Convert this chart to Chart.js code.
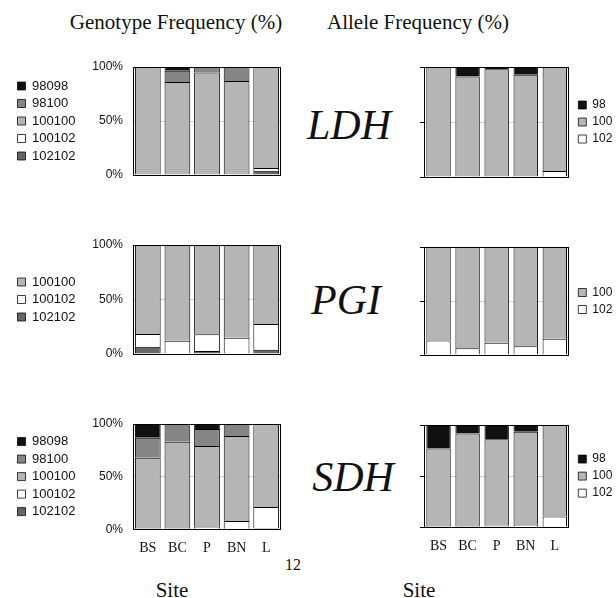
<!DOCTYPE html>
<html>
<head>
<meta charset="utf-8">
<script src="https://cdn.jsdelivr.net/npm/chart.js@4/dist/chart.umd.min.js"></script>
<style>
body { margin: 0; background: #fff; width: 616px; height: 598px; position: relative; overflow: hidden; font-family: "Liberation Serif", serif; color: #111; }
.box { position: absolute; }
.txt { position: absolute; white-space: nowrap; transform: translate(-50%, -50%); line-height: 1; }
.gene { font-style: italic; font-size: 42px; }
</style>
</head>
<body>
<div class="txt" style="left:176px;top:22px;font-size:21px">Genotype Frequency (%)</div>
<div class="txt" style="left:418px;top:22px;font-size:21px">Allele Frequency (%)</div>

<div class="txt gene" style="left:349px;top:125px">LDH</div>
<div class="txt gene" style="left:346px;top:300px">PGI</div>
<div class="txt gene" style="left:353px;top:477px">SDH</div>

<div class="txt" style="left:293px;top:565px;font-size:16px">12</div>
<div class="txt" style="left:172px;top:590px;font-size:21px">Site</div>
<div class="txt" style="left:419px;top:590px;font-size:21px">Site</div>

<div class="box" style="left:10px;top:57px;width:285px;height:126px"><canvas id="ldhGeno"></canvas></div>
<div class="box" style="left:370px;top:57px;width:246px;height:123px"><canvas id="ldhAllele"></canvas></div>
<div class="box" style="left:10px;top:235px;width:285px;height:127px"><canvas id="pgiGeno"></canvas></div>
<div class="box" style="left:370px;top:237px;width:246px;height:121px"><canvas id="pgiAllele"></canvas></div>
<div class="box" style="left:10px;top:414px;width:285px;height:154px"><canvas id="sdhGeno"></canvas></div>
<div class="box" style="left:370px;top:415px;width:246px;height:154px"><canvas id="sdhAllele"></canvas></div>

<script>
// sitios (eje x)
const sites = ['BS', 'BC', 'P', 'BN', 'L'];
const yTicks = [0, 50, 100];

// LDH - genotipos (%)
const ldh98098 = [0, 3.5, 0, 0, 0];
const ldh98100 = [0, 10.5, 5, 13, 0];
const ldh100100 = [100, 86, 95, 87, 93.5];
const ldh100102 = [0, 0, 0, 0, 2.5];
const ldh102102 = [0, 0, 0, 0, 4];
// LDH - alelos (%)
const ldhA98 = [0, 8.7, 2, 7, 0];
const ldhA100 = [100, 91.3, 98, 93, 94.5];
const ldhA102 = [0, 0, 0, 0, 5.5];

// PGI - genotipos (%)
const pgi100100 = [81.7, 87.8, 81.8, 85, 72.5];
const pgi100102 = [11.6, 12.2, 15.5, 15, 23.5];
const pgi102102 = [6.7, 0, 2.7, 0, 4];
// PGI - alelos (%)
const pgiA100 = [86.5, 93.7, 88.7, 91.8, 85];
const pgiA102 = [13.5, 6.3, 11.3, 8.2, 15];

// SDH - genotipos (%)
const sdh98098 = [13, 0, 4.7, 0, 0];
const sdh98100 = [19, 16.8, 16.2, 11.4, 0];
const sdh100100 = [68, 83.2, 76.6, 80.7, 79];
const sdh100102 = [0, 0, 2.5, 7.9, 20];
const sdh102102 = [0, 0, 0, 0, 1];
// SDH - alelos (%)
const sdhA98 = [23, 8.2, 14, 6.5, 0];
const sdhA100 = [77, 91.8, 84.5, 90.9, 89.5];
const sdhA102 = [0, 0, 1.5, 2.6, 10.5];

// colores por genotipo / alelo
const colors = {
    '98098': '#111111', '98100': '#858585', '100100': '#b5b5b5', '100102': '#ffffff', '102102': '#666666',
    '98': '#111111', '100': '#b5b5b5', '102': '#ffffff'
};

Chart.defaults.font.family = '"Liberation Sans", Arial, sans-serif';
Chart.defaults.color = '#111';
Chart.defaults.animation = false;

// marco negro alrededor del área del gráfico
const framePlugin = {
    id: 'frame',
    afterDatasetsDraw(chart) {
        const a = chart.chartArea, ctx = chart.ctx;
        ctx.save();
        ctx.strokeStyle = '#000';
        ctx.lineWidth = 1;
        ctx.strokeRect(Math.round(a.left) + 0.5, Math.round(a.top) + 0.5, Math.round(a.right - a.left) - 1, Math.round(a.bottom - a.top));
        ctx.restore();
    }
};

function makeSet(label, data) {
    return {
        label: label, data: data, backgroundColor: colors[label], borderColor: '#000',
        borderWidth: { top: 1, left: 1, right: 1, bottom: 0 }, borderSkipped: false
    };
}

// side: 'left' = genotipos, 'right' = alelos
function freqChart(id, side, showSites, sets) {
    const isLeft = side === 'left';
    const boxLeft = isLeft ? 10 : 370;
    const areaLeft = isLeft ? 133 : 424;
    const areaRight = 281;
    const scales = {
        x: {
            stacked: true,
            display: showSites,
            grid: { display: false, drawTicks: false },
            border: { display: false },
            ticks: { font: { family: '"Liberation Serif", serif', size: 14 }, color: '#111', padding: 11 }
        },
        y: {
            stacked: true,
            min: 0, max: 100,
            afterBuildTicks: (axis) => { axis.ticks = yTicks.map(v => ({ value: v })); },
            grid: isLeft
                ? { color: '#d4d4d4', drawTicks: true, tickLength: 10, tickColor: 'rgba(0,0,0,0)' }
                : { color: '#d4d4d4', drawTicks: true, tickLength: 4, tickColor: '#000' },
            border: { display: false },
            ticks: {
                display: isLeft,
                padding: 0,
                font: { size: 12 },
                color: '#111',
                callback: (v) => v + '%'
            },
            afterFit: (axis) => {
                const lg = axis.chart.legend;
                const lw = isLeft && lg && lg.width ? lg.width : 0;
                axis.width = areaLeft - boxLeft - (isLeft ? 3 : 0) - lw;
            }
        }
    };
    if (!isLeft) {
        // pequeño hueco entre el gráfico y la leyenda
        scales.gap = {
            type: 'linear',
            position: 'right',
            grid: { display: false, drawTicks: false },
            border: { display: false },
            ticks: { display: false },
            afterFit: (axis) => { axis.width = 4; }
        };
    }
    new Chart(document.getElementById(id), {
        type: 'bar',
        data: { labels: sites, datasets: sets },
        options: {
            responsive: true,
            maintainAspectRatio: false,
            layout: {
                padding: {
                    left: isLeft ? 3 : 0,
                    right: isLeft ? 295 - areaRight : 2,
                    top: 10,
                    bottom: isLeft ? (showSites ? 0 : 8) : 3
                }
            },
            datasets: { bar: { categoryPercentage: 1, barPercentage: isLeft ? 0.87 : 0.84 } },
            plugins: {
                legend: {
                    position: side,
                    fullSize: false,
                    align: 'center',
                    reverse: true,
                    labels: { boxWidth: 8, boxHeight: 8, padding: isLeft ? 4.5 : 5, font: { size: isLeft ? 13 : 12 }, color: '#111' }
                },
                tooltip: { enabled: false }
            },
            scales: scales
        },
        plugins: [framePlugin]
    });
}

freqChart('ldhGeno', 'left', false, [
    makeSet('102102', ldh102102), makeSet('100102', ldh100102), makeSet('100100', ldh100100),
    makeSet('98100', ldh98100), makeSet('98098', ldh98098)
]);
freqChart('ldhAllele', 'right', false, [
    makeSet('102', ldhA102), makeSet('100', ldhA100), makeSet('98', ldhA98)
]);
freqChart('pgiGeno', 'left', false, [
    makeSet('102102', pgi102102), makeSet('100102', pgi100102), makeSet('100100', pgi100100)
]);
freqChart('pgiAllele', 'right', false, [
    makeSet('102', pgiA102), makeSet('100', pgiA100)
]);
freqChart('sdhGeno', 'left', true, [
    makeSet('102102', sdh102102), makeSet('100102', sdh100102), makeSet('100100', sdh100100),
    makeSet('98100', sdh98100), makeSet('98098', sdh98098)
]);
freqChart('sdhAllele', 'right', true, [
    makeSet('102', sdhA102), makeSet('100', sdhA100), makeSet('98', sdhA98)
]);
</script>
</body>
</html>
